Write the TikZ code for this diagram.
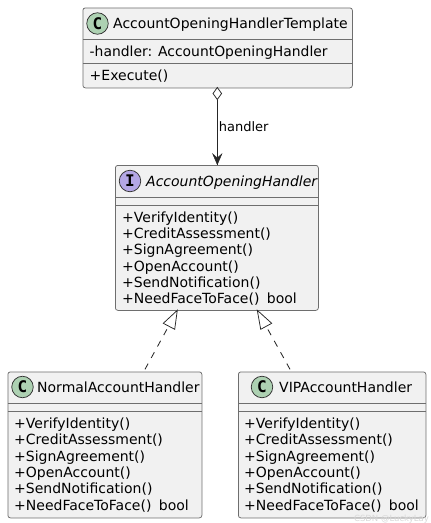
\documentclass[tikz,border=0pt]{standalone}
\usepackage{fontspec}
\setmainfont{DejaVu Sans}
\newfontfamily\badgefont{DejaVu Sans Mono}
\usetikzlibrary{calc,positioning}
\definecolor{boxfill}{HTML}{F1F1F1}
\definecolor{boxline}{HTML}{6E6E6E}
\definecolor{classc}{HTML}{ADD1B2}
\definecolor{ifacec}{HTML}{B4A7E5}
\definecolor{wm}{HTML}{D8D8D8}
\tikzset{
  x=1pt,y=-1pt,
  umlbox/.style={draw=boxline,fill=boxfill,line width=0.75pt,rounded corners=2.5pt,inner sep=0pt,anchor=north west},
  sepline/.style={draw=boxline,line width=0.75pt},
  badge/.style={circle,draw=black!80,line width=0.75pt,minimum size=21.5pt,inner sep=0pt,font=\fontsize{16}{16}\selectfont\badgefont\bfseries},
  titletxt/.style={anchor=base west,inner sep=0pt,font=\fontsize{14}{14}\selectfont},
  membertxt/.style={anchor=base west,inner sep=0pt,font=\fontsize{14}{14}\selectfont},
  conn/.style={draw=black!85,line width=0.85pt},
  tip/.style={draw=black!85,fill=white,line width=0.75pt},
  wmtxt/.style={anchor=base east,inner sep=0pt,text=wm,font=\fontsize{8.5}{8.5}\selectfont},
}
\newcommand{\members}[3]{%
  \foreach \i/\t in {0/+VerifyIdentity(),1/+CreditAssessment(),2/+SignAgreement(),3/+OpenAccount(),4/+SendNotification(),5/+NeedFaceToFace()\hspace{3pt} bool}{
    \node[membertxt] (#1m\i) at (#2,#3+\i*16.35) {\t};
  }%
}
\begin{document}
\begin{tikzpicture}
\useasboundingbox (0,0) rectangle (431,523);
% boxes
\node[umlbox,minimum width=269.5pt,minimum height=80pt] (tpl) at (82.5,7.5) {};
\node[umlbox,minimum width=203pt,minimum height=145pt] (ifc) at (115,165) {};
\node[umlbox,minimum width=194pt,minimum height=146pt] (nor) at (7.5,371.5) {};
\node[umlbox,minimum width=187.5pt,minimum height=146pt] (vip) at (238,371.5) {};
% separators
\draw[sepline] (82.5,39.5) -- (352,39.5);
\draw[sepline] (82.5,63.5) -- (352,63.5);
\draw[sepline] (115,197) -- (318,197);
\draw[sepline] (115,205) -- (318,205);
\draw[sepline] (7.5,403.5) -- (201.5,403.5);
\draw[sepline] (7.5,411.5) -- (201.5,411.5);
\draw[sepline] (238,403.5) -- (425.5,403.5);
\draw[sepline] (238,411.5) -- (425.5,411.5);
% badges
\node[badge,fill=classc] (b1) at (97.5,23.5) {C};
\node[badge,fill=ifacec] (b2) at (130,181) {I};
\node[badge,fill=classc] (b3) at (22.5,387) {C};
\node[badge,fill=classc] (b4) at (262,387) {C};
% titles
\node[titletxt] (t1) at (113,28.5) {AccountOpeningHandlerTemplate};
\node[titletxt] (t2) at (146,186) {\itshape AccountOpeningHandler};
\node[titletxt] (t3) at (37,392.5) {NormalAccountHandler};
\node[titletxt] (t4) at (279,392.5) {VIPAccountHandler};
% members
\node[membertxt,font=\fontsize{13.9}{14}\selectfont] (f1) at (89.5,56) {-handler: AccountOpeningHandler};
\node[membertxt] (f2) at (89.5,80.5) {+Execute()};
\members{i}{122}{222}
\members{n}{14}{428.5}
\members{v}{244}{428.5}
% connectors
\coordinate (tplout) at (217.3,87.5);
\coordinate (dtip) at (217.3,99.5);
\coordinate (ifcin) at (217.3,164.5);
\draw[conn] (dtip) -- (ifcin);
\path[draw=black!85,fill=black!85,line width=0.5pt,line join=miter] (ifcin) -- (212.8,154) -- (217.3,158) -- (221.8,154) -- cycle;
\path[tip] (tplout) -- (221.6,93.5) -- (dtip) -- (213,93.5) -- cycle;
\node[anchor=base west,inner sep=0pt,font=\fontsize{13}{13}\selectfont] (lh) at (218.7,131.5) {handler};
\coordinate (nout) at (145,369.3);
\coordinate (ntip) at (177.3,310.3);
\coordinate (vout) at (290,369.3);
\coordinate (vtip) at (257.3,310.3);
\draw[conn,dash pattern=on 6.5pt off 6.5pt] (nout) -- ($(ntip)!16pt!(nout)$);
\draw[conn,dash pattern=on 6.5pt off 6.5pt] (vout) -- ($(vtip)!16pt!(vout)$);
\path[tip] (ntip) -- (174.7,329.3) -- (163.3,323.3) -- cycle;
\path[tip] (vtip) -- (271.7,323.3) -- (260.7,329.3) -- cycle;
% watermark
\node[wmtxt] (wmk) at (429,521.5) {CSDN @LuckyLay};
\end{tikzpicture}
\end{document}
